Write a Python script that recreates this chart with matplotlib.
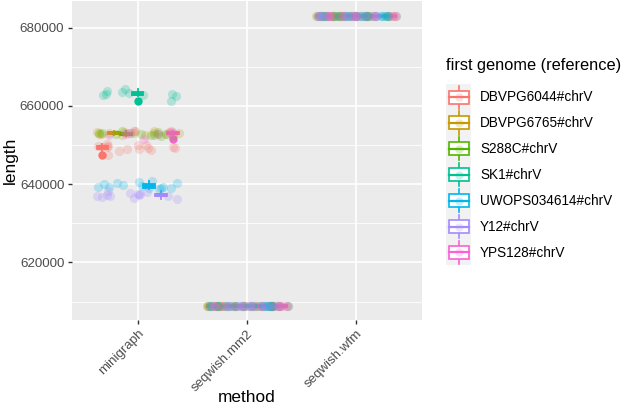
import numpy as np
import matplotlib
matplotlib.use("Agg")
import matplotlib.pyplot as plt
from matplotlib.legend_handler import HandlerBase
from matplotlib.patches import Rectangle
from matplotlib.lines import Line2D

plt.rcParams['font.family'] = ['Liberation Sans', 'DejaVu Sans']

# ---------------- data ----------------
methods = ["minigraph", "seqwish.mm2", "seqwish.wfm"]
genomes = ["DBVPG6044#chrV", "DBVPG6765#chrV", "S288C#chrV", "SK1#chrV",
           "UWOPS034614#chrV", "Y12#chrV", "YPS128#chrV"]
colors = ["#F8766D", "#C49A00", "#53B400", "#00C094", "#00B6EB", "#A58AFF", "#FB61D7"]

minigraph_DBVPG6044 = [650300, 650100, 649900, 649800, 649700, 649600, 649500, 649400, 649300,
                       649200, 649100, 649000, 648800, 648600, 647400]
minigraph_DBVPG6765 = [653700, 653600, 653500, 653400, 653300, 653200, 653100, 653100, 653000,
                       652900, 652800, 652700, 652600, 652500]
minigraph_S288C = [653500, 653300, 653200, 653100, 653000, 652900, 652900, 652800, 652700,
                   652600, 652500, 652400, 652300]
minigraph_SK1 = [664200, 663800, 663500, 663300, 663100, 663000, 662900, 662700, 662500, 661300]
minigraph_UWOPS034614 = [640800, 640600, 640400, 640200, 640000, 639800, 639600, 639400, 639300,
                         639200, 639100, 639000, 638900, 638700]
minigraph_Y12 = [638200, 638000, 637800, 637600, 637400, 637300, 637200, 637100, 637000,
                 636900, 636700, 636500, 636300]
minigraph_YPS128 = [653600, 653400, 653300, 653200, 653100, 653100, 653000, 652900, 652800,
                    652600, 651500]

seqwish_mm2_len = [609000, 609000, 609000, 609000, 609000, 609000, 609000,
                   609000, 609000, 609000, 609000, 609000, 609000, 609000]
seqwish_wfm_len = [683100, 683100, 683100, 683100, 683100, 683100, 683100,
                   683100, 683100, 683100, 683100, 683100, 683100, 683100]

minigraph_all = [minigraph_DBVPG6044, minigraph_DBVPG6765, minigraph_S288C, minigraph_SK1,
                 minigraph_UWOPS034614, minigraph_Y12, minigraph_YPS128]

yticks = [620000, 640000, 660000, 680000]
yminor = [610000, 630000, 650000, 670000]

# ---------------- figure ----------------
W, H = 622, 412
fig = plt.figure(figsize=(W / 100, H / 100), dpi=100)
top_px, bot_px, left_px, right_px = 1, 320, 72, 422
ax = fig.add_axes([left_px / W, 1 - bot_px / H, (right_px - left_px) / W, (bot_px - top_px) / H])
ax.set_facecolor("#EBEBEB")
for s in ax.spines.values():
    s.set_visible(False)

allvals = np.concatenate([np.concatenate(minigraph_all), seqwish_mm2_len, seqwish_wfm_len])
lo, hi = allvals.min(), allvals.max()
pad = 0.05 * (hi - lo)
ax.set_ylim(lo - pad, hi + pad)
ax.set_xlim(0.4, 3.6)

ax.set_yticks(yticks)
ax.set_yticks(yminor, minor=True)
ax.set_xticks([1, 2, 3])
ax.set_xticklabels(methods, rotation=45, ha="right", va="top", rotation_mode="anchor")
ax.grid(which="major", color="white", lw=1.2)
ax.grid(which="minor", axis="y", color="white", lw=0.6)
ax.set_axisbelow(True)
ax.tick_params(which="major", length=3, width=1.0, color="#333333", labelcolor="#4D4D4D",
               labelsize=9.6, pad=2.5)
ax.tick_params(which="minor", length=0)
ax.set_xlabel("method", fontsize=12.4, va="center")
ax.xaxis.set_label_coords(0.5, (bot_px - 398) / (bot_px - top_px))
ax.set_ylabel("length", fontsize=12.4, va="center")
ax.yaxis.set_label_coords((10 - left_px) / (right_px - left_px), 0.5)

n = len(genomes)
dw = 0.75 / n
rng = np.random.default_rng(11)
for j, (g, c) in enumerate(zip(genomes, colors)):
    data = [minigraph_all[j], seqwish_mm2_len, seqwish_wfm_len]
    d = (j - (n - 1) / 2) * dw
    pos = [1 + d, 2 + d, 3 + d]
    ax.boxplot(data, positions=pos, widths=dw, patch_artist=True, manage_ticks=False,
               showcaps=False, whis=1.5,
               boxprops=dict(facecolor="white", edgecolor=c, lw=1.3),
               medianprops=dict(color=c, lw=2.6),
               whiskerprops=dict(color=c, lw=1.3),
               flierprops=dict(marker="o", markerfacecolor=c, markeredgecolor=c, markersize=5),
               zorder=3)
for j, (g, c) in enumerate(zip(genomes, colors)):
    data = [minigraph_all[j], seqwish_mm2_len, seqwish_wfm_len]
    for i, vals in enumerate(data):
        xs = (i + 1) + rng.uniform(-0.38, 0.38, len(vals))
        ax.plot(xs, vals, "o", color=c, alpha=0.24, markersize=6.6, markeredgewidth=0, zorder=4)


class BoxHandler(HandlerBase):
    def create_artists(self, legend, orig_handle, xdescent, ydescent, width, height, fontsize, trans):
        c = orig_handle.get_color()
        x0, y0 = -xdescent, -ydescent
        bg = Rectangle((x0, y0), width, height, facecolor="#F2F2F2", edgecolor="none", transform=trans)
        bw, bh = width * 0.8, height * 0.5
        bx, by = x0 + (width - bw) / 2, y0 + (height - bh) / 2
        wb = Line2D([bx + bw / 2] * 2, [y0 + 1, by], color=c, lw=1.2, transform=trans)
        wt = Line2D([bx + bw / 2] * 2, [by + bh, y0 + height - 1], color=c, lw=1.2, transform=trans)
        box = Rectangle((bx, by), bw, bh, facecolor="white", edgecolor=c, lw=1.2, transform=trans)
        med = Line2D([bx, bx + bw], [by + bh / 2] * 2, color=c, lw=1.6, transform=trans)
        pt = Line2D([bx + bw / 2], [by + bh / 2], marker="o", ms=6, color=c, alpha=0.22,
                    markeredgewidth=0, ls="none", transform=trans)
        return [bg, wb, wt, box, med, pt]


handles = [Line2D([], [], color=c) for c in colors]
leg = fig.legend(handles, genomes, loc="upper left", bbox_to_anchor=(446 / W, 1 - 58 / H),
                 frameon=False, title="first genome (reference)", title_fontsize=11.8, fontsize=9.8,
                 handlelength=1.85, handleheight=2.55, labelspacing=0, handletextpad=0.65,
                 borderaxespad=0, borderpad=0, alignment="left",
                 handler_map={Line2D: BoxHandler()})
leg._legend_box.sep = 8

fig.savefig("out.png", dpi=100, facecolor="white")
